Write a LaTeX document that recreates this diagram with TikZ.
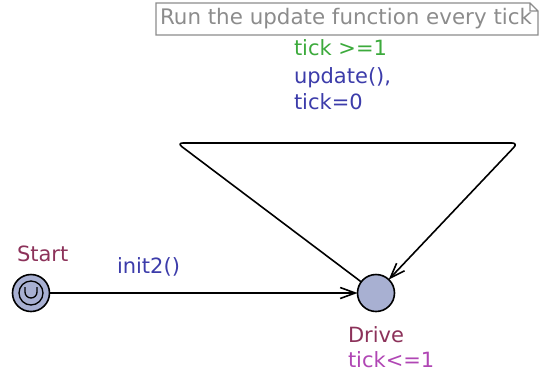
\documentclass[tikz,border=0pt]{standalone}
\usepackage{fontspec}
\setmainfont{DejaVu Sans}
\usepackage{tikz}
\usetikzlibrary{positioning}
\usetikzlibrary{arrows.meta}
\usetikzlibrary{calc}
\definecolor{locfill}{RGB}{168,176,210}
\definecolor{locname}{RGB}{140,50,90}
\definecolor{invcol}{RGB}{176,70,180}
\definecolor{guardcol}{RGB}{60,170,60}
\definecolor{assigncol}{RGB}{60,60,170}
\definecolor{notecol}{RGB}{140,140,140}
\newcommand{\uppfont}{\fontsize{21}{27}\selectfont}

\begin{document}
\begin{tikzpicture}[x=1pt,y=-1pt,line width=1.6pt,>={Straight Barb[length=15pt,width=11pt]},
	every node/.style={inner sep=0,outer sep=0,font=\uppfont},
	loc/.style={circle,draw,fill=locfill,minimum size=37pt},
	lbl/.style={anchor=base west}]
	\useasboundingbox (0,0) rectangle (547,376);
	% locations
	\node (start) [loc] at (31,293) {};
	\node (drive) [loc] at (376,293) {};
	\draw[line width=1.3pt] (start) circle (12pt);
	\draw[line width=1.3pt] (25,287) -- (25,292) arc (180:360:6pt) -- (37,287);
	% names and invariant
	\node (startname) [lbl,text=locname] at (17,261) {Start};
	\node (drivename) [lbl,text=locname] at (348,342) {Drive};
	\node (driveinv) [lbl,text=invcol] at (348,367) {tick<=1};
	% edges
	\coordinate (loopL) at (177,143);
	\coordinate (loopR) at (518,143);
	\path[->]
		(start) edge (drive);
	\draw[->,rounded corners=6pt] (drive) -- (loopL) -- (loopR) -- (drive);
	% edge labels
	\node (sync) [lbl,text=assigncol] at (117,273) {init2()};
	\node (guard) [lbl,text=guardcol] at (294,55) {tick >=1};
	\node (upd) [lbl,text=assigncol] at (294,83) {update(),};
	\node (reset) [lbl,text=assigncol] at (294,109) {tick=0};
	% note
	\node (note) [text=notecol,font=\fontsize{21.4}{27}\selectfont] at (346,19) {Run the update function every tick};
	\draw[notecol,line width=1.2pt] (156,3) -- (530,3) -- (538,11) -- (538,35) -- (156,35) -- cycle
		(530,3) -- (530,11) -- (538,11);
\end{tikzpicture}
\end{document}
